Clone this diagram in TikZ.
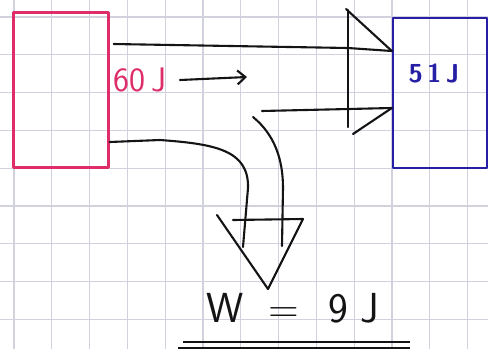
\documentclass[tikz,border=0pt]{standalone}
\usetikzlibrary{arrows.meta}
\definecolor{gridc}{RGB}{210,210,222}
\definecolor{pinkc}{RGB}{222,45,105}
\definecolor{bluec}{RGB}{38,30,165}
\definecolor{inkc}{RGB}{20,20,20}
\tikzset{
  ink/.style={draw=inkc, line width=2.1pt, line cap=round, line join=round},
  boxpink/.style={draw=pinkc, line width=2.3pt, line join=round},
  boxblue/.style={draw=bluec, line width=2.3pt, line join=round},
  lbl/.style={inner sep=0pt, font=\sffamily}
}
\begin{document}
\begin{tikzpicture}[x=1pt,y=-1pt]
\useasboundingbox (0,0) rectangle (488,349);
\fill[white] (0,0) rectangle (488,349);
% grid
\foreach \i in {0,...,12} \draw[gridc, line width=1.2pt] ({14+37.8*\i},0) -- ({14+37.8*\i},349);
\foreach \j in {0,...,8} \draw[gridc, line width=1.2pt] (0,{17+37.8*\j}) -- (488,{17+37.8*\j});
% boxes
\node[boxpink, minimum width=95pt, minimum height=155pt, inner sep=0pt] (src) at (61,90) {};
\node[boxblue, minimum width=94pt, minimum height=150pt, inner sep=0pt] (dst) at (440,93) {};
% labels
\node[lbl, text=pinkc, font=\sffamily\fontsize{34}{34}\selectfont] (q) at (140,80) {60\,J};
\node[lbl, text=bluec, font=\sffamily\bfseries\fontsize{26}{26}\selectfont] (e) at (434,73) {5\,1\,J};
\node[lbl, text=inkc, font=\sffamily\fontsize{42}{42}\selectfont] (w) at (293,308) {W\hspace{24pt}=\hspace{30pt}9\hspace{12pt}J};
% small arrow
\coordinate (sa) at (180,80);
\coordinate (sb) at (247,77);
\draw[ink, -{Straight Barb[length=8pt,width=14pt]}] (sa) -- (sb);
% horizontal big arrow
\coordinate (t0) at (src.east |- 0,44);
\coordinate (tip1) at (dst.west |- 0,51);
\coordinate (tip2) at (dst.west |- 0,108);
\draw[ink] ([xshift=4pt]t0) -- (348,48) -- (tip1);
\draw[ink] (346,9) -- (tip1);
\draw[ink] (348,10) -- (348,127);
\draw[ink] (tip2) -- (353,134);
\draw[ink] (262,111) -- (tip2);
% downward big arrow
\coordinate (b0) at (src.east |- 0,142);
\coordinate (tip3) at (268,289);
\draw[ink] (b0) -- (160,140) .. controls (215,144) and (249,150) .. (248,188) -- (243,247);
\draw[ink] (253,117) .. controls (275,135) and (283,160) .. (283,188) -- (282,246);
\draw[ink] (217,215) -- (tip3);
\draw[ink] (233,220) -- (303,219) -- (tip3);
% underline
\coordinate (u1) at (183,342);
\coordinate (u2) at (410,342);
\draw[inkc, line width=1.8pt] (u1) -- (u2);
\draw[inkc, line width=1.8pt] (178,348) -- (410,348);
\end{tikzpicture}
\end{document}
